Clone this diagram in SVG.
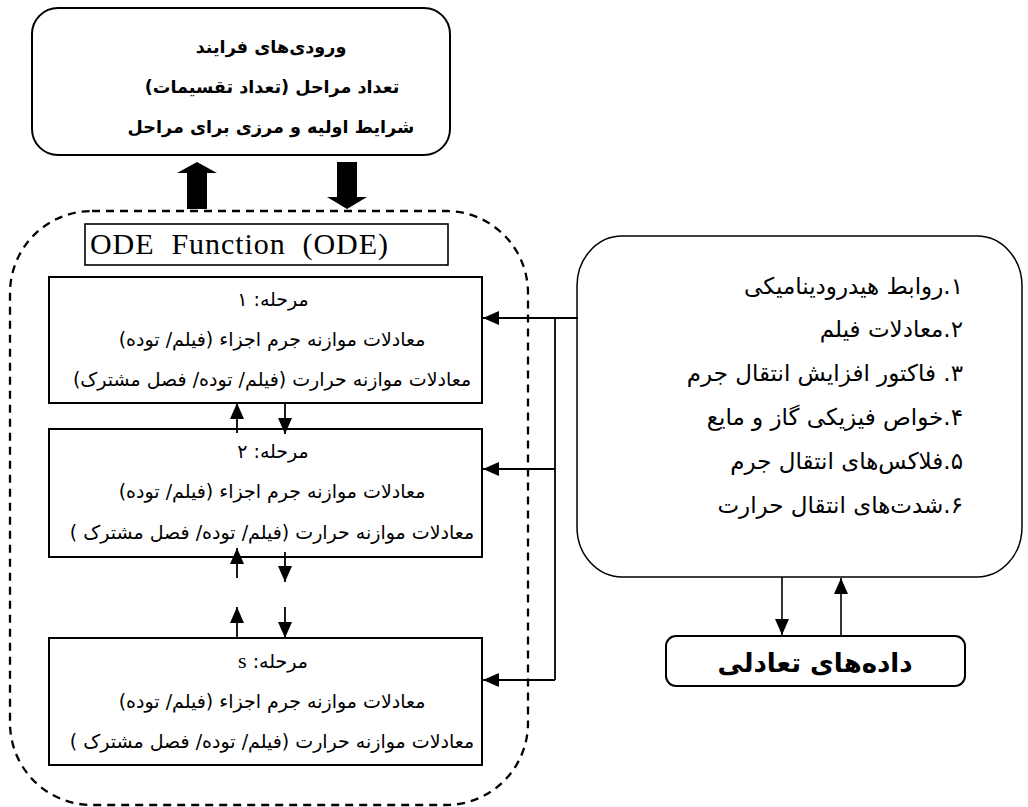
<svg xmlns="http://www.w3.org/2000/svg" width="1028" height="807" viewBox="0 0 1028 807">
<style>
.fa{font-family:"DejaVu Sans",sans-serif;direction:rtl;unicode-bidi:embed;fill:#000}
.st{font-size:19px}
.cr{font-size:23px}
.box{fill:#fff;stroke:#000;stroke-width:2}
.thin{fill:none;stroke:#000;stroke-width:1.6}
.conn{fill:none;stroke:#000;stroke-width:1.8}
.big{fill:#000;stroke:none}
</style>
<defs>
<marker id="ahs" viewBox="0 0 10 10" refX="10" refY="5" markerWidth="16" markerHeight="14" markerUnits="userSpaceOnUse" orient="auto" preserveAspectRatio="none">
<path d="M0,0 L10,5 L0,10 z" fill="#000"/>
</marker>
</defs>

<g id="inputs">
<rect class="box" x="32" y="8" width="418" height="147" rx="26" ry="26"/>
<text class="fa" font-weight="bold" font-size="17.6" text-anchor="middle" x="271" y="53">ورودی‌های فرایند</text>
<text class="fa" font-weight="bold" font-size="17.6" text-anchor="middle" x="272" y="93">تعداد مراحل (تعداد تقسیمات)</text>
<text class="fa" font-weight="bold" font-size="17.6" text-anchor="middle" x="271" y="133">شرایط اولیه و مرزی برای مراحل</text>
</g>

<g id="ode-container">
<rect x="10" y="211" width="518" height="594" rx="82" ry="82" fill="none" stroke="#000" stroke-width="2.3" stroke-dasharray="8,6"/>
</g>

<g id="ode-title">
<rect x="85" y="224" width="363" height="41" fill="#fff" stroke="#000" stroke-width="1.6"/>
<text x="90" y="254" font-family="Liberation Serif,serif" font-size="30" textLength="298" lengthAdjust="spacing" xml:space="preserve">ODE  Function  (ODE)</text>
</g>

<g id="stage1">
<rect class="box" x="49" y="277" width="433" height="126"/>
<text class="fa st" text-anchor="middle" x="273" y="306">مرحله: ۱</text>
<text class="fa st" text-anchor="middle" x="272" y="346">معادلات موازنه جرم اجزاء (فیلم/ توده)</text>
<text class="fa st" text-anchor="middle" x="272" y="386">معادلات موازنه حرارت (فیلم/ توده/ فصل مشترک)</text>
</g>

<g id="stage2">
<rect class="box" x="49" y="429" width="433" height="128"/>
<text class="fa st" text-anchor="middle" x="273" y="458">مرحله: ۲</text>
<text class="fa st" text-anchor="middle" x="272" y="498">معادلات موازنه جرم اجزاء (فیلم/ توده)</text>
<text class="fa st" text-anchor="middle" x="272" y="539">معادلات موازنه حرارت (فیلم/ توده/ فصل مشترک )</text>
</g>

<g id="stageS">
<rect class="box" x="49" y="638" width="433" height="127"/>
<text class="fa st" text-anchor="middle" x="273" y="668">مرحله: <tspan font-family="Liberation Serif,serif" font-size="22">s</tspan></text>
<text class="fa st" text-anchor="middle" x="272" y="708">معادلات موازنه جرم اجزاء (فیلم/ توده)</text>
<text class="fa st" text-anchor="middle" x="272" y="748">معادلات موازنه حرارت (فیلم/ توده/ فصل مشترک )</text>
</g>

<g id="correlations">
<rect x="577" y="236" width="445" height="341" rx="45" ry="50" fill="#fff" stroke="#000" stroke-width="1.5"/>
<text class="fa cr" text-anchor="start" x="963" y="294">۱.روابط هیدرودینامیکی</text>
<text class="fa cr" text-anchor="start" x="963" y="337">۲.معادلات فیلم</text>
<text class="fa cr" text-anchor="start" x="963" y="381">۳. فاکتور افزایش انتقال جرم</text>
<text class="fa cr" text-anchor="start" x="963" y="425">۴.خواص فیزیکی گاز و مایع</text>
<text class="fa cr" text-anchor="start" x="963" y="469">۵.فلاکس‌های انتقال جرم</text>
<text class="fa cr" text-anchor="start" x="963" y="513">۶.شدت‌های انتقال حرارت</text>
</g>

<g id="equilibrium">
<rect x="666" y="636" width="299" height="50" rx="10" ry="10" fill="#fff" stroke="#000" stroke-width="2"/>
<text class="fa" font-weight="bold" font-size="26" text-anchor="middle" x="815" y="672">داده‌های تعادلی</text>
</g>

<g id="connectors">
<path class="big" d="M187,209 L207,209 L207,173 L217,173 L197,162 L177,173 L187,173 z"/>
<path class="big" d="M337,162 L357,162 L357,197 L367,197 L347,209 L327,197 L337,197 z"/>
<line class="conn" stroke-width="3" x1="237" y1="433" x2="237" y2="403" marker-end="url(#ahs)"/>
<line class="conn" stroke-width="3" x1="285" y1="403" x2="285" y2="434" marker-end="url(#ahs)"/>
<line class="conn" stroke-width="3" x1="237" y1="578" x2="237" y2="548" marker-end="url(#ahs)"/>
<line class="conn" stroke-width="3" x1="285" y1="552" x2="285" y2="582" marker-end="url(#ahs)"/>
<line class="conn" stroke-width="3" x1="237" y1="638" x2="237" y2="607" marker-end="url(#ahs)"/>
<line class="conn" stroke-width="3" x1="285" y1="607" x2="285" y2="638" marker-end="url(#ahs)"/>
<line class="conn" x1="578" y1="318" x2="483" y2="318" marker-end="url(#ahs)"/>
<polyline class="conn" points="555,318 555,680"/>
<line class="conn" x1="555" y1="469" x2="483" y2="469" marker-end="url(#ahs)"/>
<line class="conn" x1="555" y1="680" x2="483" y2="680" marker-end="url(#ahs)"/>
<line class="thin" x1="782" y1="577" x2="782" y2="635" marker-end="url(#ahs)"/>
<line class="thin" x1="841" y1="636" x2="841" y2="578" marker-end="url(#ahs)"/>
</g>
</svg>
